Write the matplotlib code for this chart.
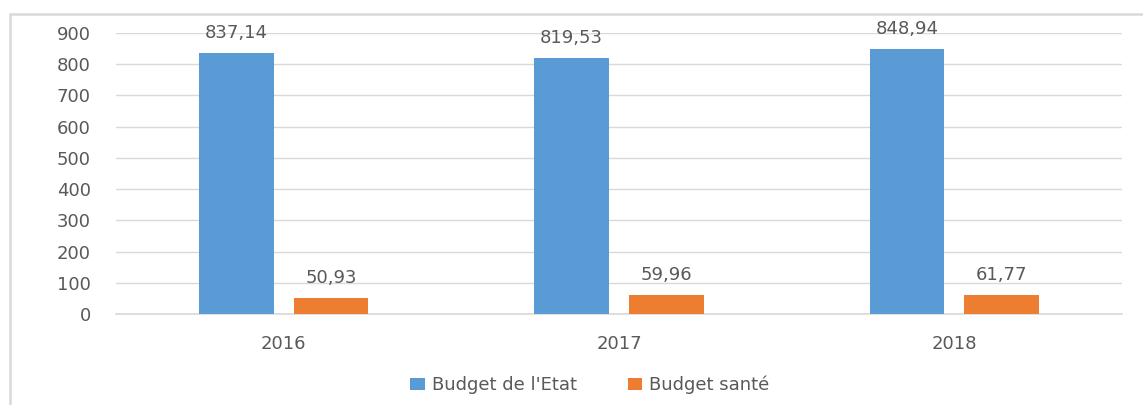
import matplotlib
matplotlib.use("Agg")
import matplotlib.pyplot as plt
import numpy as np
from matplotlib.patches import Rectangle

# data
years = ["2016", "2017", "2018"]
budget_etat = [837.14, 819.53, 848.94]
budget_sante = [50.93, 59.96, 61.77]
series_names = ["Budget de l'Etat", "Budget santé"]

BLUE = "#5B9BD5"
ORANGE = "#ED7D31"
TXT = "#595959"
GRID = "#D9D9D9"
FS = 13

plt.rcParams['font.family'] = ['DejaVu Sans']

fig = plt.figure(figsize=(11.43, 4.05), dpi=100)
ax = fig.add_axes([116/1143, 1-314/405, (1122-116)/1143, (314-33)/405])

x = np.arange(len(years))
w = 0.222
off = 0.141
b1 = ax.bar(x - off, budget_etat, w, color=BLUE, label=series_names[0], zorder=3)
b2 = ax.bar(x + off, budget_sante, w, color=ORANGE, label=series_names[1], zorder=3)

def fmt(v):
    return f"{v:.2f}".replace(".", ",")

for bars, vals in ((b1, budget_etat), (b2, budget_sante)):
    ax.bar_label(bars, labels=[fmt(v) for v in vals], padding=8,
                 fontsize=FS, color=TXT)

ax.set_xlim(-0.5, 2.5)
ax.set_ylim(0, 900)
ax.set_yticks(range(0, 901, 100))
ax.set_xticks(x)
ax.set_xticklabels(years)
ax.tick_params(axis='both', length=0, labelsize=FS, labelcolor=TXT)
ax.tick_params(axis='y', pad=18)
ax.tick_params(axis='x', pad=15)
ax.yaxis.grid(True, color=GRID, linewidth=1, zorder=0)
ax.axhline(0, color=GRID, linewidth=1.2, zorder=1, clip_on=False)
for s in ax.spines.values():
    s.set_visible(False)

ax.legend(loc='center', bbox_to_anchor=(590/1143, 1-385/405),
          bbox_transform=fig.transFigure, ncol=2, frameon=False,
          fontsize=FS, labelcolor=TXT, handlelength=0.8, handleheight=0.6,
          handletextpad=0.4, columnspacing=2.8)

# outer frame (runs off the right and bottom edges)
fig.patches.append(Rectangle((10/1143, -0.1), 1.2, 1.1 - 14/405,
                             transform=fig.transFigure, fill=False,
                             edgecolor=GRID, linewidth=1.8))

fig.savefig("out.png", dpi=100)
